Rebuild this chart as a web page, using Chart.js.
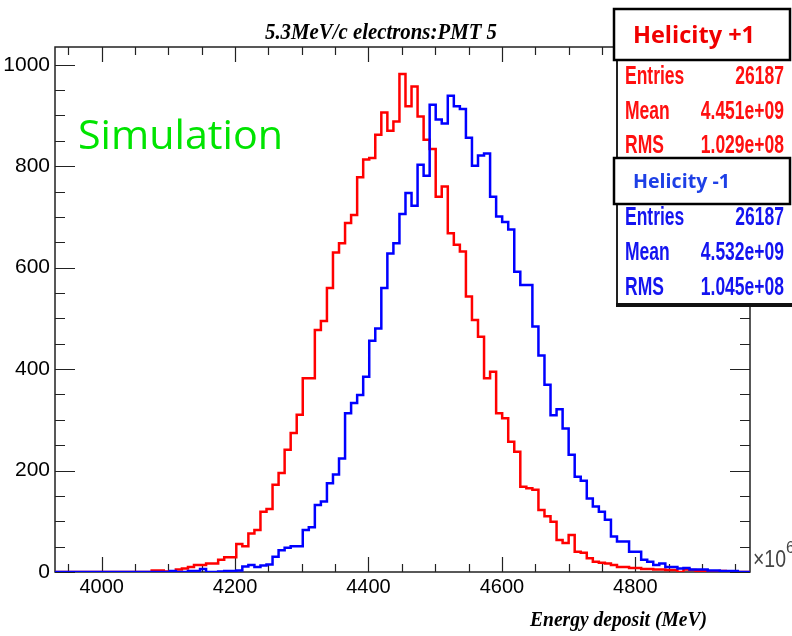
<!DOCTYPE html>
<html>
<head>
<meta charset="utf-8">
<script src="https://cdn.jsdelivr.net/npm/chart.js@4.4.1/dist/chart.umd.min.js"></script>
<style>
  html, body { margin: 0; padding: 0; background: #fff; }
  canvas { display: block; }
</style>
</head>
<body>
<canvas id="chart" width="792" height="636"></canvas>
<script>
// histogram binning (MeV), 115 bins
const BIN_START = 3930;
const BIN_WIDTH = 9.06;
const X_MIN = 3930;
const X_MAX = 4972;
const Y_MAX = 1035;

const xTickLabels = [4000, 4200, 4400, 4600, 4800];
const yTickLabels = [0, 200, 400, 600, 800, 1000];

// counts per bin
const helicityPlus = [
  0, 0, 0, 0, 0, 0, 0, 0, 0, 0, 0, 0, 0, 0, 0, 0,
  3, 3, 1, 0, 5, 7, 10, 14, 14, 17, 17, 24, 29, 29,
  55, 51, 76, 83, 119, 124, 172, 195, 241, 274,
  310, 382, 382, 477, 495, 560, 630, 648, 688, 704,
  778, 813, 816, 862, 906, 870, 888, 982, 918, 957,
  898, 852, 834, 740, 760, 668, 645, 632, 543, 497,
  464, 382, 395, 313, 303, 257, 237, 168, 165, 162,
  122, 110, 99, 63, 57, 73, 40, 38, 27, 20,
  18, 17, 14, 10, 10, 8, 8, 6, 6, 5,
  5, 4, 4, 0, 5, 4, 2, 2, 1, 1,
  2, 0, 0, 0, 0
];

const helicityMinus = [
  0, 0, 0, 0, 0, 0, 0, 0, 0, 0, 0, 0, 0, 0, 0, 0, 0, 0, 0,
  2, 0, 0, 2, 2, 6, 0, 0, 1, 2, 2,
  3, 11, 14, 10, 13, 15, 30, 43, 48, 51,
  51, 83, 88, 132, 139, 175, 192, 224, 313, 333,
  349, 385, 456, 480, 560, 628, 648, 706, 747, 722,
  803, 781, 921, 892, 884, 939, 918, 913, 856, 801,
  821, 825, 740, 701, 690, 675, 592, 566, 566, 484,
  427, 369, 309, 321, 283, 231, 188, 180, 145, 129,
  119, 103, 70, 60, 60, 40, 40, 24, 20, 14,
  17, 10, 10, 7, 8, 5, 5, 5, 3, 3,
  2, 2, 2, 0, 0
];

const statsPlus = [['Entries', '26187'], ['Mean', '4.451e+09'], ['RMS', '1.029e+08']];
const statsMinus = [['Entries', '26187'], ['Mean', '4.532e+09'], ['RMS', '1.045e+08']];

function toSteps(counts) {
  const pts = counts.map((c, i) => ({ x: BIN_START + i * BIN_WIDTH, y: c }));
  pts.push({ x: BIN_START + counts.length * BIN_WIDTH, y: counts[counts.length - 1] });
  return pts;
}

// draw text squeezed/stretched horizontally to a given width
function fitText(ctx, text, x, y, font, width, align) {
  ctx.save();
  ctx.font = font;
  const w = ctx.measureText(text).width;
  const s = width ? width / w : 1;
  ctx.translate(x, y);
  ctx.scale(s, 1);
  ctx.textAlign = align || 'left';
  ctx.fillText(text, 0, 0);
  ctx.restore();
}

function scaledText(ctx, text, x, y, font, sx, align) {
  ctx.save();
  ctx.font = font;
  ctx.translate(x, y);
  ctx.scale(sx, 1);
  ctx.textAlign = align;
  ctx.fillText(text, 0, 0);
  ctx.restore();
}

const rootFrame = {
  id: 'rootFrame',
  beforeDatasetsDraw(chart) {
    const { ctx, chartArea: a, scales: { x, y } } = chart;
    ctx.save();
    ctx.strokeStyle = '#222';
    ctx.lineWidth = 1.5;
    ctx.strokeRect(a.left, a.top, a.right - a.left, a.bottom - a.top);

    ctx.beginPath();
    for (let v = 3950; v <= 4950; v += 50) {
      const px = Math.round(x.getPixelForValue(v)) + 0.5;
      const len = v % 200 === 0 ? 15 : 8;
      ctx.moveTo(px, a.bottom); ctx.lineTo(px, a.bottom - len);
      ctx.moveTo(px, a.top); ctx.lineTo(px, a.top + len);
    }
    for (let v = 0; v <= 1000; v += 50) {
      const py = Math.round(y.getPixelForValue(v)) + 0.5;
      const len = v % 200 === 0 ? 20 : 10;
      ctx.moveTo(a.left, py); ctx.lineTo(a.left + len, py);
      ctx.moveTo(a.right, py); ctx.lineTo(a.right - len, py);
    }
    ctx.lineWidth = 1.2;
    ctx.stroke();
    ctx.restore();
  }
};

function drawStats(ctx, top, bottom, rows, rowY, color) {
  ctx.fillStyle = '#fff';
  ctx.fillRect(617, top, 180, bottom - top);
  ctx.fillStyle = '#222';
  ctx.fillRect(616, top, 2, bottom - top);
  ctx.fillStyle = color;
  ctx.textBaseline = 'middle';
  rows.forEach((r, i) => {
    scaledText(ctx, r[0], 625, rowY[i], 'bold 25px "Liberation Sans"', 0.7, 'left');
    scaledText(ctx, r[1], 784, rowY[i], 'bold 25px "Liberation Sans"', 0.7, 'right');
  });
}

function drawLabelBox(ctx, top, bottom, text, font, width, baseline, color) {
  ctx.fillStyle = '#fff';
  ctx.fillRect(613, top, 178, bottom - top);
  ctx.strokeStyle = '#000';
  ctx.lineWidth = 2.5;
  ctx.strokeRect(614, top + 1, 176, bottom - top - 2);
  ctx.fillStyle = color;
  ctx.textBaseline = 'alphabetic';
  fitText(ctx, text, 633, baseline, font, width, 'left');
}

const rootTexts = {
  id: 'rootTexts',
  afterDraw(chart) {
    const ctx = chart.ctx;
    ctx.save();

    ctx.fillStyle = '#000';
    ctx.textBaseline = 'middle';
    fitText(ctx, '5.3MeV/c electrons:PMT 5', 381, 33, 'bold italic 24px "Liberation Serif"', 232, 'center');
    fitText(ctx, 'Energy deposit (MeV)', 707, 621, 'bold italic 21px "Liberation Serif"', 177, 'right');

    // exponent marker of the x axis
    ctx.fillStyle = '#444';
    fitText(ctx, '\u00d710', 753, 560, '24px "Liberation Sans"', 33, 'left');
    fitText(ctx, '6', 786, 549, '16px "Liberation Sans"', 0, 'left');

    ctx.fillStyle = '#00e400';
    ctx.textBaseline = 'alphabetic';
    fitText(ctx, 'Simulation', 78, 149, '40px "Open Sans"', 205, 'left');

    drawStats(ctx, 55, 165, statsPlus, [77, 112, 146], '#ff1010');
    drawLabelBox(ctx, 8, 61, 'Helicity +1', 'bold 24px "Open Sans"', 122, 43, '#f00000');

    drawStats(ctx, 200, 304, statsMinus, [218, 253, 288], '#1414f0');
    ctx.fillStyle = '#111';
    ctx.fillRect(616, 303, 176, 4);
    drawLabelBox(ctx, 157, 205, 'Helicity -1', 'bold 20px "Open Sans"', 97, 188, '#1e40e6');

    ctx.restore();
  }
};

const chart = new Chart(document.getElementById('chart'), {
  type: 'line',
  data: {
    datasets: [
      {
        label: 'Helicity -1',
        data: toSteps(helicityMinus),
        borderColor: '#0000ff',
        borderWidth: 2.5,
        stepped: 'before',
        pointRadius: 0,
        fill: false
      },
      {
        label: 'Helicity +1',
        data: toSteps(helicityPlus),
        borderColor: '#ff0000',
        borderWidth: 2.5,
        stepped: 'before',
        pointRadius: 0,
        fill: false
      }
    ]
  },
  options: {
    responsive: false,
    animation: false,
    devicePixelRatio: 1,
    layout: { padding: { top: 47, right: 42, left: 0, bottom: 0 } },
    plugins: { legend: { display: false }, tooltip: { enabled: false } },
    scales: {
      x: {
        type: 'linear',
        min: X_MIN,
        max: X_MAX,
        afterFit: s => { s.height = 64; },
        afterBuildTicks: s => { s.ticks = xTickLabels.map(v => ({ value: v })); },
        grid: { display: false, drawTicks: false },
        border: { display: false },
        ticks: {
          padding: 3,
          color: '#000',
          maxRotation: 0,
          autoSkip: false,
          font: { family: 'Liberation Sans', size: 20 },
          callback: v => String(v)
        }
      },
      y: {
        type: 'linear',
        min: 0,
        max: Y_MAX,
        afterFit: s => { s.width = 55; },
        afterBuildTicks: s => { s.ticks = yTickLabels.map(v => ({ value: v })); },
        grid: { display: false, drawTicks: false },
        border: { display: false },
        ticks: {
          padding: 5,
          color: '#000',
          font: { family: 'Liberation Sans', size: 21 },
          callback: v => String(v)
        }
      }
    }
  },
  plugins: [rootFrame, rootTexts]
});
</script>
</body>
</html>
